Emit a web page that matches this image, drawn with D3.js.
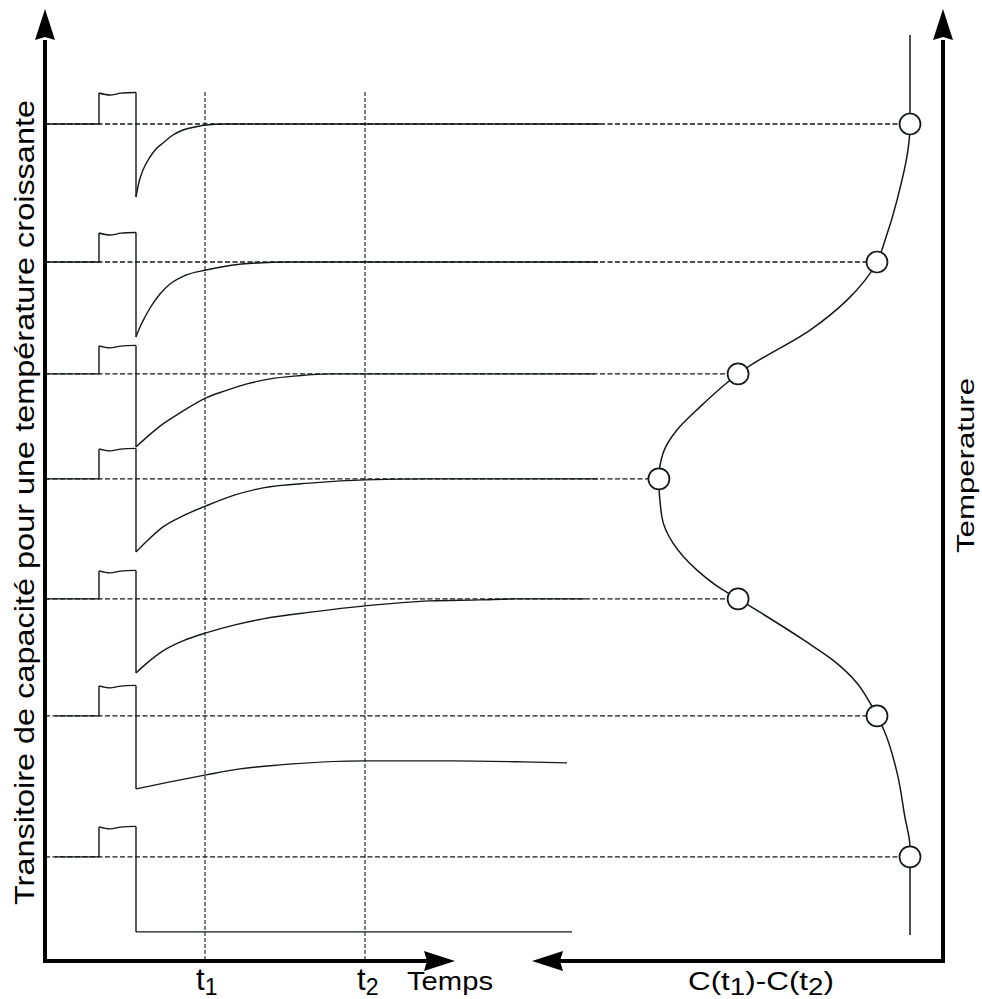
<!DOCTYPE html>
<html><head><meta charset="utf-8">
<script src="https://cdn.jsdelivr.net/npm/d3@7"></script>
<style>body{margin:0;background:#fff}svg{display:block}</style>
</head><body><svg id="c" width="982" height="999"></svg>
<script>
// ---------- DATA ----------
// rows, top to bottom: temperature of each transient (K)
const temperatures = [329, 283, 245.7, 210.7, 170.7, 131.7, 84.7];
// DLTS signal C(t1)-C(t2) at each temperature (arb. units)
const dltsSignal = [0, 11, 57.3, 83.7, 57.3, 11, 0];
// DLTS spectrum curve
const dltsCurveT = [358.7, 329, 303.7, 290.3, 283, 270.3, 260.3, 248, 245.7, 243, 234.7, 227, 219.3, 210.7, 198, 189.3, 180.3, 174.3, 170.7, 156.7, 150.3, 142.7, 136, 131.7, 127, 112.7, 98, 88, 84.7, 58.7];
const dltsCurveS = [0, 0, 4.3, 8.3, 11, 21, 33.3, 54, 57.3, 60.7, 70, 77.7, 82.3, 83.7, 82.7, 79, 71, 63.3, 57.3, 35, 25.7, 17.7, 13.3, 11, 8.7, 4.3, 1.7, 0, 0, 0];
// time (arb.) of the lead, pulse and gates
const leadStart = [0, 0, 0, 0, 0, 1, 1];
const pulseStart = 5.4, pulseEnd = 9.1;
const pulseHeight = [3.1, 2.9, 2.8, 3.0, 2.8, 3.0, 3.0];
const pulseTopTimes = [5.4, 6.5, 7.6, 9.1];
const pulseTopOffsets = [0, -0.2, -0.02, 0.05];
const t1 = 16, t2 = 32;
// capacitance transients after the pulse (time, ΔC)
const transientTimes = [
  [9.1, 9.4, 9.8, 10.5, 11.1, 11.8, 12.8, 13.8, 15.0, 16.1, 18.0, 55.5],
  [9.1, 9.5, 10.0, 10.5, 11.5, 12.5, 14.0, 16.1, 18.5, 21.2, 24.5, 55.3],
  [9.1, 10.1, 11.8, 13.5, 16.1, 18.0, 20.2, 22.5, 25.2, 28.5, 55.0],
  [9.1, 10.1, 11.8, 14.0, 16.1, 19.0, 21.8, 26.8, 32, 38.5, 55.3],
  [9.1, 10.1, 11.8, 13.8, 16.1, 19.0, 21.8, 26.8, 32, 38.5, 43.5, 47, 54.0],
  [9.1, 12.5, 16.1, 19.5, 23.5, 32, 40.5, 47.8, 52.2],
  [9.1, 52.7]
];
const transientValues = [
  [-7.3, -5.8, -4.6, -3.3, -2.5, -1.9, -1.1, -0.6, -0.3, -0.1, 0, 0],
  [-7.5, -6.5, -5.5, -4.6, -3.2, -2.2, -1.35, -0.8, -0.35, -0.1, 0, 0],
  [-7.3, -6.4, -5.0, -3.9, -2.4, -1.7, -1.0, -0.5, -0.2, 0, 0],
  [-7.3, -6.3, -4.8, -3.6, -2.7, -1.6, -0.9, -0.4, -0.1, 0, 0],
  [-7.4, -6.5, -5.2, -4.2, -3.4, -2.6, -2.0, -1.3, -0.7, -0.2, -0.1, 0, 0],
  [-7.3, -6.6, -5.9, -5.3, -4.9, -4.5, -4.5, -4.6, -4.7],
  [-7.5, -7.5]
];

// ---------- SCALES ----------
const svg = d3.select("#c");
const xT = d3.scaleLinear().domain([0, 100]).range([45, 1045]);      // time
const yTemp = d3.scaleLinear().domain([50, 350]).range([961, 61]);   // temperature
const dC = d3.scaleLinear().domain([0, 1]).range([0, -10]);          // capacitance offset
const xS = d3.scaleLinear().domain([0, 100]).range([910, 610]);      // DLTS signal

const ink = "#141818";
const R = 10.5;
const axisY = yTemp(50), axisTop = 40, tipTop = 9;
const leftX = xT(0), rightX = 943;

const g = svg.append("g");

// vertical gate lines t1, t2
[t1, t2].forEach(t => {
  g.append("line").attr("x1", xT(t)).attr("x2", xT(t))
    .attr("y1", 92).attr("y2", axisY)
    .attr("stroke", ink).attr("stroke-width", 1.1).attr("stroke-dasharray", "4,2");
});

// horizontal dashed lines to the DLTS points
temperatures.forEach((T, i) => {
  g.append("line").attr("x1", leftX).attr("x2", xS(dltsSignal[i]) - R)
    .attr("y1", yTemp(T)).attr("y2", yTemp(T))
    .attr("stroke", ink).attr("stroke-width", 1.3).attr("stroke-dasharray", "5,2.5");
});

// transients
const lin = d3.line().x(d => xT(d[0])).y(d => d[1]);
const smooth = d3.line().x(d => xT(d[0])).y(d => d[1]).curve(d3.curveMonotoneX);
const wave = d3.line().x(d => xT(d[0])).y(d => d[1]).curve(d3.curveNatural);
temperatures.forEach((T, i) => {
  const y0 = yTemp(T);
  const top = y0 + dC(pulseHeight[i]);
  const lead = [[leadStart[i], y0], [pulseStart, y0], [pulseStart, top]];
  g.append("path").attr("d", lin(lead)).attr("fill", "none").attr("stroke", ink).attr("stroke-width", 1.4);
  const tp = pulseTopTimes.map((t, k) => [t, top + dC(pulseTopOffsets[k])]);
  g.append("path").attr("d", wave(tp)).attr("fill", "none").attr("stroke", ink).attr("stroke-width", 1.3);
  const last = tp[tp.length - 1];
  const bottom = y0 + dC(transientValues[i][0]);
  g.append("path").attr("d", lin([last, [pulseEnd, bottom]])).attr("fill", "none").attr("stroke", ink).attr("stroke-width", 1.4);
  const pts = transientTimes[i].map((t, k) => [t, y0 + dC(transientValues[i][k])]);
  g.append("path").attr("d", smooth(pts)).attr("fill", "none").attr("stroke", ink).attr("stroke-width", 1.4);
});

// DLTS curve
const dltsLine = d3.line().x(d => xS(d[1])).y(d => yTemp(d[0])).curve(d3.curveMonotoneY);
g.append("path").attr("d", dltsLine(dltsCurveT.map((T, k) => [T, dltsCurveS[k]])))
  .attr("fill", "none").attr("stroke", ink).attr("stroke-width", 1.5);
temperatures.forEach((T, i) => {
  g.append("circle").attr("cx", xS(dltsSignal[i])).attr("cy", yTemp(T)).attr("r", R)
    .attr("fill", "#fff").attr("stroke", ink).attr("stroke-width", 1.7);
});

// axes
function arrow(tx, ty, dir) {
  const L = 31, W = 10, N = 3;
  let p;
  if (dir === "up") p = [[tx, ty], [tx + W, ty + L], [tx, ty + L - N], [tx - W, ty + L]];
  if (dir === "right") p = [[tx, ty], [tx - L, ty + W], [tx - L + N, ty], [tx - L, ty - W]];
  if (dir === "left") p = [[tx, ty], [tx + L, ty + W], [tx + L - N, ty], [tx + L, ty - W]];
  g.append("path").attr("d", "M" + p.join("L") + "Z").attr("fill", "#000");
}
const thick = 4;
g.append("path").attr("d", `M${leftX},${axisTop}V${axisY}H${428}`)
  .attr("fill", "none").attr("stroke", "#000").attr("stroke-width", thick);
arrow(leftX, tipTop, "up");
arrow(455, axisY, "right");
g.append("path").attr("d", `M${560},${axisY}H${rightX}V${axisTop}`)
  .attr("fill", "none").attr("stroke", "#000").attr("stroke-width", thick);
arrow(rightX, tipTop, "up");
arrow(532, axisY, "left");

// labels
const font = "'Liberation Sans', Arial, sans-serif";
svg.append("text").attr("transform", `translate(34,${905}) rotate(-90)`)
  .attr("font-family", font).attr("font-size", 27).attr("fill", "#000")
  .attr("textLength", 805).attr("lengthAdjust", "spacingAndGlyphs")
  .text("Transitoire de capacité pour une température croissante");
svg.append("text").attr("transform", `translate(974,${553}) rotate(-90)`)
  .attr("font-family", font).attr("font-size", 24).attr("fill", "#000")
  .attr("textLength", 175).attr("lengthAdjust", "spacingAndGlyphs")
  .text("Temperature");

function tlabel(x, sub) {
  const t = svg.append("text").attr("x", x).attr("y", 990)
    .attr("font-family", font).attr("font-size", 31).attr("fill", "#000");
  t.append("tspan").text("t");
  t.append("tspan").attr("dy", 5).attr("font-size", 23).text(sub);
}
tlabel(xT(t1) - 9, "1");
tlabel(xT(t2) - 8, "2");
svg.append("text").attr("x", 407).attr("y", 990)
  .attr("font-family", font).attr("font-size", 25).attr("fill", "#000")
  .attr("textLength", 86).attr("lengthAdjust", "spacingAndGlyphs").text("Temps");
const ct = svg.append("text").attr("x", 688).attr("y", 990)
  .attr("font-family", font).attr("font-size", 26).attr("fill", "#000")
  .attr("textLength", 146).attr("lengthAdjust", "spacingAndGlyphs");
ct.append("tspan").text("C(t");
ct.append("tspan").attr("dy", 5).attr("font-size", 23).text("1");
ct.append("tspan").attr("dy", -5).text(")-C(t");
ct.append("tspan").attr("dy", 5).attr("font-size", 23).text("2");
ct.append("tspan").attr("dy", -5).text(")");
</script></body></html>
